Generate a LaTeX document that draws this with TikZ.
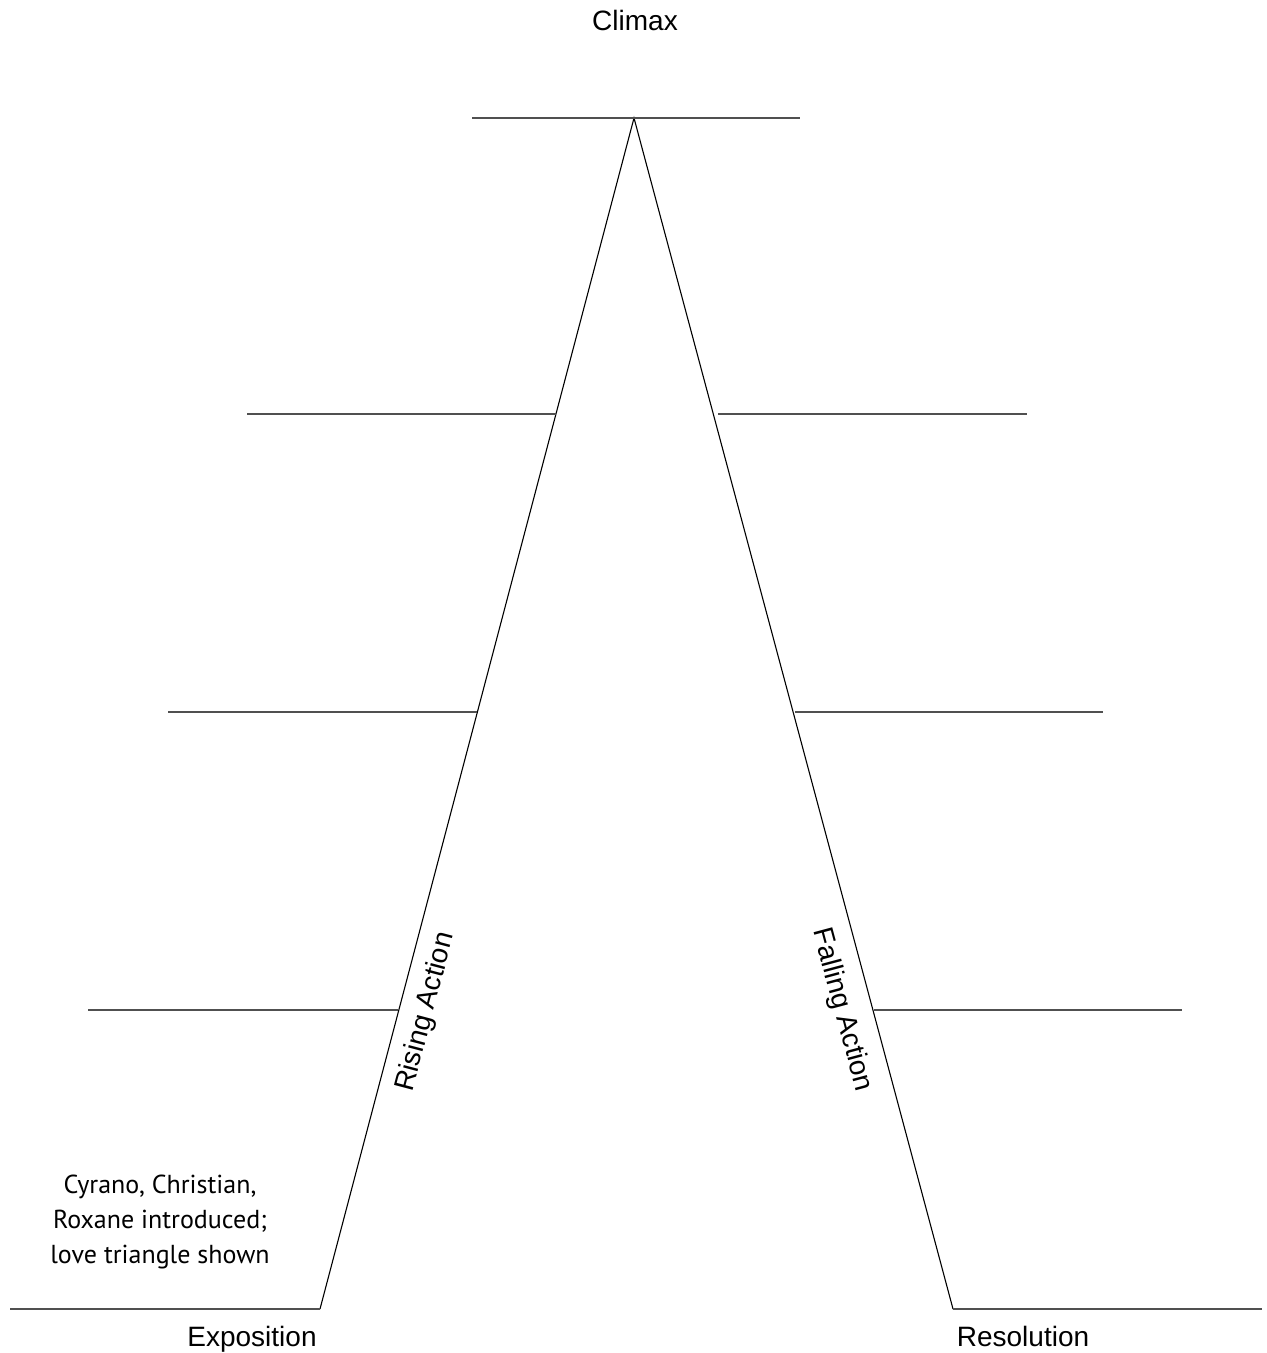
\documentclass[tikz,border=0pt]{standalone}
\usepackage{fontspec}
\setmainfont{Liberation Sans}
\newfontfamily\handfont{PT Sans}
\usetikzlibrary{positioning,calc}
\definecolor{slopeline}{RGB}{0,0,0}
\definecolor{stepline}{RGB}{80,80,80}
\tikzset{
  slope/.style={draw=slopeline, line width=0.55pt},
  stepline/.style={draw=stepline, line width=0.65pt},
  stagelabel/.style={font=\fontsize{14}{16}\selectfont, inner sep=0pt},
  handnote/.style={font=\handfont\fontsize{13}{17.5}\selectfont, align=center, inner sep=0pt}
}
\begin{document}
\begin{tikzpicture}[x=0.5pt,y=-0.5pt]
\useasboundingbox (0,0) rectangle (1267,1353);

% ---- arc of the plot ----
\coordinate (peak) at (634,118);
\coordinate (expoEnd) at (320,1309);
\coordinate (resoStart) at (953,1309);
\draw[slope] (expoEnd) -- (peak) -- (resoStart);

% ---- writing lines ----
\draw[stepline] (472,118) -- (800,118);
\draw[stepline] (247,414) -- (556,414);
\draw[stepline] (168,712) -- (477,712);
\draw[stepline] (88,1010) -- (398,1010);
\draw[stepline] (718,414) -- (1027,414);
\draw[stepline] (795,712) -- (1103,712);
\draw[stepline] (874,1010) -- (1182,1010);
\draw[stepline] (10,1309) -- (expoEnd);
\draw[stepline] (resoStart) -- (1262,1309);

% ---- labels ----
\node[stagelabel, anchor=base] (Climax) at (635,31) {Climax};
\node[stagelabel, anchor=base] (Exposition) at (252,1346) {Exposition};
\node[stagelabel, anchor=base] (Resolution) at (1023,1346) {Resolution};
\node[stagelabel, rotate=75.2] (Rising) at (426,1012) {Rising Action};
\node[stagelabel, rotate=-75] (Falling) at (842,1010) {Falling Action};

% ---- notes ----
\node[handnote] (ExpoNote) at (160,1222) {Cyrano, Christian,\\ Roxane introduced;\\ love triangle shown};

\end{tikzpicture}
\end{document}
